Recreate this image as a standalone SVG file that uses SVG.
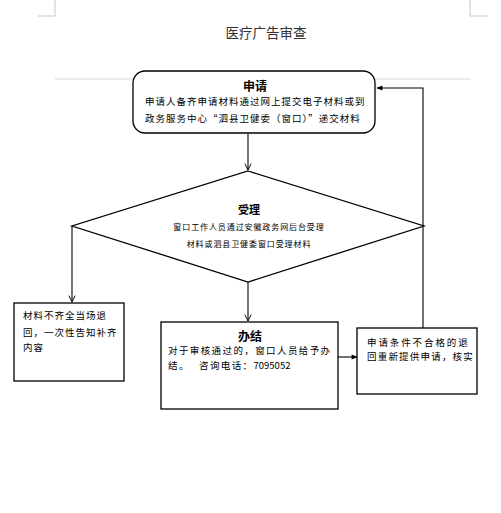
<svg xmlns="http://www.w3.org/2000/svg" width="501" height="513" viewBox="0 0 501 513">
<style>
text{font-family:"Noto Sans CJK SC","Noto Sans",sans-serif;fill:#000}
.b{font-weight:bold;font-size:12px;text-anchor:middle}
.t{font-size:9.5px}
.s{font-size:8px;text-anchor:middle;letter-spacing:0.9px}
.box{fill:#fff;stroke:#000;stroke-width:1.3}
.ln{fill:none;stroke:#000;stroke-width:1.1}
.pg{fill:none;stroke:#c8c8c8;stroke-width:1}
</style>
<defs>
<marker id="v" viewBox="0 0 10 10" refX="9" refY="5" markerWidth="8" markerHeight="8" orient="auto" markerUnits="userSpaceOnUse">
<path d="M1,1 L9,5 L1,9" fill="none" stroke="#000" stroke-width="1.2"/>
</marker>
<marker id="f" viewBox="0 0 10 10" refX="9" refY="5" markerWidth="7" markerHeight="6" orient="auto" markerUnits="userSpaceOnUse">
<path d="M0,1 L10,5 L0,9 Z" fill="#000"/>
</marker>
</defs>
<rect width="501" height="513" fill="#fff"/>
<path class="pg" d="M55,0 V16 H38 M470,0 V16 H488"/>
<line x1="55" y1="79" x2="471" y2="79" stroke="#d8d8d8" stroke-width="1"/>
<text x="266" y="38" style="font-size:13.5px;text-anchor:middle;fill:#333">医疗广告审查</text>

<g id="connectors">
<line class="ln" x1="248" y1="134" x2="248" y2="170" marker-end="url(#v)"/>
<line class="ln" x1="72" y1="226" x2="72" y2="302" marker-end="url(#v)"/>
<line class="ln" x1="248" y1="282" x2="248" y2="321" marker-end="url(#v)"/>
<line class="ln" x1="338" y1="357" x2="357" y2="357" marker-end="url(#f)"/>
<polyline class="ln" points="423,328 423,88 377,88" marker-end="url(#f)"/>
</g>

<g id="apply">
<rect class="box" x="133" y="71" width="242" height="62" rx="12" stroke="#333" stroke-width="1.5"/>
<text class="b" x="255" y="91">申请</text>
<text class="t" x="145" y="105" style="letter-spacing:1px">申请人备齐申请材料通过网上提交电子材料或到</text>
<text class="t" x="145" y="122" style="letter-spacing:1px">政务服务中心“泗县卫健委（窗口）”递交材料</text>
</g>

<g id="accept">
<polygon class="box" points="248,171 424,226 248,282 72,226"/>
<text class="b" x="249" y="214" style="font-size:11px">受理</text>
<text class="s" x="249" y="230">窗口工作人员通过安徽政务网后台受理</text>
<text class="s" x="249" y="247">材料或泗县卫健委窗口受理材料</text>
</g>

<g id="reject">
<rect class="box" x="14" y="303" width="110" height="78"/>
<text class="t" x="23" y="319" style="letter-spacing:1px">材料不齐全当场退</text>
<text class="t" x="23" y="336" style="letter-spacing:1px">回，一次性告知补齐</text>
<text class="t" x="23" y="351" style="letter-spacing:1px">内容</text>
</g>

<g id="finish">
<rect class="box" x="161" y="322" width="177" height="87"/>
<text class="b" x="250" y="341">办结</text>
<text class="t" x="168" y="354" style="letter-spacing:1.4px">对于审核通过的，窗口人员给予办</text>
<text class="t" x="168" y="369" style="letter-spacing:1.4px">结。<tspan x="199">咨询电话：</tspan><tspan style="letter-spacing:0">7095052</tspan></text>
</g>

<g id="retry">
<rect class="box" x="357" y="328" width="120" height="66"/>
<text class="t" x="367" y="346" style="letter-spacing:1.9px">申请条件不合格的退</text>
<text class="t" x="367" y="360" style="letter-spacing:1.2px">回重新提供申请，核实</text>
</g>
</svg>
